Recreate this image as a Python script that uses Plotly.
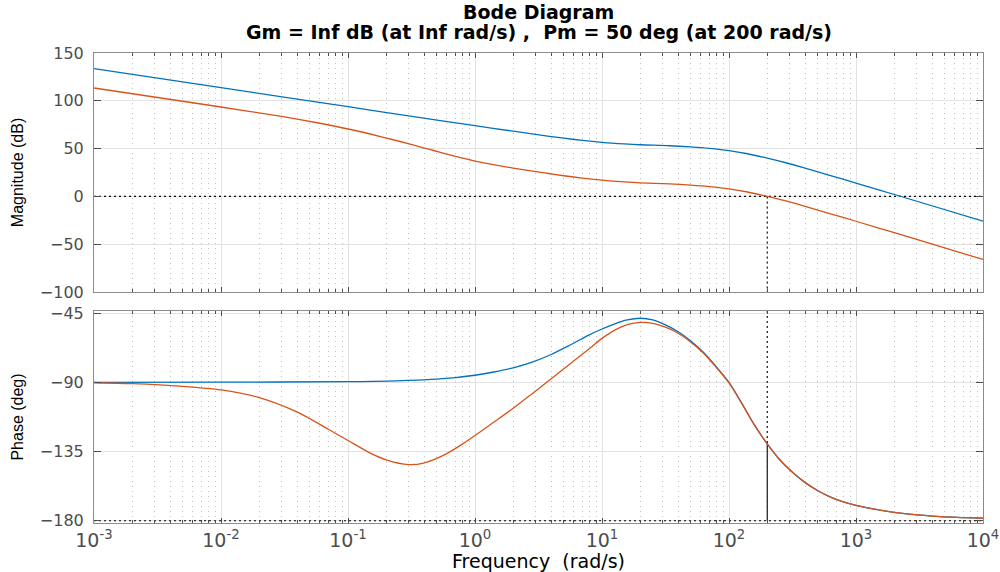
import plotly.graph_objects as go

# ---------------- values ----------------
# System 1 (blue) magnitude
mag1_freq = [0.001, 0.01, 0.1, 0.3, 1, 2, 3, 5, 7, 10, 15, 20, 34, 50, 70, 100, 140, 200, 280, 385, 600, 1000,
             2100, 10000]
mag1_db = [133.6, 113.7, 93.8, 84.3, 74.0, 68.2, 64.8, 60.9, 58.6, 56.6, 54.9, 54.0, 53.0, 51.7, 50.2, 47.9, 44.6,
           40.0, 35.2, 30.2, 22.6, 14.0, 1.2, -26.0]

# System 2 (orange) magnitude
mag2_freq = [0.001, 0.01, 0.03, 0.06, 0.1, 0.18, 0.33, 0.6, 1, 2, 3.67, 5, 7, 10, 15, 20, 34, 50, 70, 100, 140,
             200, 280, 385, 600, 1000, 2100, 10000]
mag2_db = [113.4, 93.5, 83.6, 76.5, 70.5, 62.6, 53.7, 44.2, 36.9, 29.6, 24.2, 21.6, 19.1, 17.0, 15.1, 14.1, 13.0,
           11.7, 10.2, 7.9, 4.6, 0.0, -4.8, -9.8, -17.4, -26.0, -38.8, -66.0]

# System 1 (blue) phase
ph1_freq = [0.001, 0.01, 0.1, 0.2, 0.3, 0.5, 0.7, 1, 1.41, 2.0, 2.82, 3.98, 5.62, 7.94, 10, 12.6, 15.8, 20.0, 25.1,
            31.6, 39.8, 50.1, 63.1, 79.4, 100, 126, 158, 200, 251, 316, 398, 501, 631, 794, 1000, 1585, 2512, 3981,
            6310, 10000]
ph1_deg = [-89.9, -89.8, -89.5, -89.1, -88.7, -87.8, -86.8, -85.3, -83.2, -80.5, -76.8, -71.8, -65.6, -59.0, -55.2,
           -51.8, -49.3, -48.2, -49.2, -52.5, -57.0, -63.0, -70.5, -79.8, -90.0, -103.5, -117.5, -130.0, -140.3,
           -148.5, -155.2, -160.5, -164.6, -167.7, -170.0, -173.3, -175.6, -177.0, -177.9, -178.4]

# System 2 (orange) phase
ph2_freq = [0.001, 0.002, 0.005, 0.01, 0.02, 0.04, 0.07, 0.1, 0.15, 0.2, 0.3, 0.4, 0.6, 0.8, 1, 1.41, 2.0, 2.82,
            3.98, 5.62, 7.94, 10, 12.6, 15.8, 20.0, 25.1, 31.6, 39.8, 50.1, 63.1, 79.4, 100, 126, 158, 200, 251, 316,
            398, 501, 631, 794, 1000, 1585, 2512, 3981, 6310, 10000]
ph2_deg = [-90.2, -90.8, -92.5, -94.8, -99.8, -109.3, -120.5, -127.8, -136.0, -140.4, -143.5, -142.3, -136.3,
           -130.0, -124.5, -115.8, -106.8, -97.3, -87.6, -77.8, -68.0, -61.3, -55.9, -52.4, -50.9, -51.5, -54.0,
           -58.0, -63.8, -71.0, -80.2, -90.3, -103.6, -117.5, -130.0, -140.3, -148.5, -155.2, -160.5, -164.6,
           -167.7, -170.0, -173.3, -175.6, -177.0, -177.9, -178.4]

# Stability margins of system 2
gm_text = "Inf"
pm_deg = 50
wc = 200           # gain crossover frequency (rad/s)
ph_at_wc = -130    # phase at crossover (deg)

freq_lim = [0.001, 10000]
freq_ticks = [0.001, 0.01, 0.1, 1, 10, 100, 1000, 10000]
freq_ticklabels = ["10<sup>-3</sup>", "10<sup>-2</sup>", "10<sup>-1</sup>", "10<sup>0</sup>", "10<sup>1</sup>",
                   "10<sup>2</sup>", "10<sup>3</sup>", "10<sup>4</sup>"]
mag_lim = [-100, 150]
mag_ticks = [-100, -50, 0, 50, 100, 150]
ph_lim = [-181.5, -43.5]
ph_ticks = [-180, -135, -90, -45]

BLUE = "#0072BD"
ORANGE = "#D95319"
TICKC = "#4d4d4d"
FONT_H = "DejaVu Sans"
FONT_V = "Liberation Sans"

fig = go.Figure()

def mline(x, y, xa, ya, dash):
    fig.add_trace(go.Scatter(x=x, y=y, mode="lines", xaxis=xa, yaxis=ya, hoverinfo="skip",
                             line=dict(color="black", width=1.1, dash=dash)))

def curve(x, y, color, xa, ya):
    fig.add_trace(go.Scatter(x=x, y=y, mode="lines", xaxis=xa, yaxis=ya, hoverinfo="skip",
                             line=dict(color=color, width=1.3, shape="spline", smoothing=0.8)))

# margin markers
mline(freq_lim, [0, 0], "x", "y", "2px,3px")
mline([wc, wc], [0, mag_lim[0]], "x", "y", "2px,3px")
mline(freq_lim, [-180, -180], "x2", "y2", "2px,3px")
mline([wc, wc], [ph_lim[1], ph_at_wc], "x2", "y2", "2px,3px")
mline([wc, wc], [ph_at_wc, -180], "x2", "y2", "solid")

curve(mag1_freq, mag1_db, BLUE, "x", "y")
curve(mag2_freq, mag2_db, ORANGE, "x", "y")
curve(ph1_freq, ph1_deg, BLUE, "x2", "y2")
curve(ph2_freq, ph2_deg, ORANGE, "x2", "y2")

xcommon = dict(type="log", range=[-3, 4], tickmode="array", tickvals=freq_ticks, ticktext=freq_ticklabels,
               ticks="inside", ticklen=5, tickcolor=TICKC,
               showline=True, linecolor="#8c8c8c", linewidth=1, mirror="allticks",
               showgrid=True, gridcolor="#e2e2e2", gridwidth=1, zeroline=False, ticklabeloverflow="allow",
               minor=dict(dtick="D1", ticks="inside", ticklen=3, tickcolor=TICKC, showgrid=True,
                          gridcolor="#c2c2c2", griddash="1px,4px", gridwidth=1))

ycommon = dict(ticks="inside", ticklen=7, tickcolor=TICKC, showline=True, linecolor="#8c8c8c", linewidth=1,
               mirror="allticks", showgrid=True, gridcolor="#e2e2e2", gridwidth=1, zeroline=False,
               tickfont=dict(family=FONT_H, size=16, color=TICKC), ticklabelstandoff=6)

fig.update_layout(
    width=1000, height=572, showlegend=False,
    paper_bgcolor="white", plot_bgcolor="white",
    margin=dict(l=94, r=17, t=53, b=49, autoexpand=False),
    xaxis=dict(**xcommon, anchor="y", matches="x2", showticklabels=False),
    xaxis2=dict(**xcommon, anchor="y2", showticklabels=True,
                tickfont=dict(family=FONT_H, size=19, color=TICKC), ticklabelstandoff=0,
                title=dict(text="Frequency\u00a0\u00a0(rad/s)", font=dict(family=FONT_H, size=19, color="black"),
                           standoff=1)),
    yaxis=dict(**ycommon, anchor="x", domain=[0.4915, 1.0], range=mag_lim, tickvals=mag_ticks,
               title=dict(text="Magnitude (dB)", font=dict(family=FONT_V, size=16, color="black"), standoff=12)),
    yaxis2=dict(**ycommon, anchor="x2", domain=[0.0, 0.451], range=ph_lim, tickvals=ph_ticks,
                title=dict(text="Phase (deg)", font=dict(family=FONT_V, size=16, color="black"), standoff=12)),
    annotations=[
        dict(text="<b>Bode Diagram</b>", xref="paper", yref="paper", x=0.5, y=1.0872, showarrow=False,
             xanchor="center", yanchor="middle", font=dict(family=FONT_H, size=19, color="black")),
        dict(text="<b>Gm = %s dB (at %s rad/s) ,\u00a0\u00a0Pm = %d deg (at %d rad/s)</b>" % (gm_text, gm_text, pm_deg, wc),
             xref="paper", yref="paper", x=0.5, y=1.0447, showarrow=False,
             xanchor="center", yanchor="middle", font=dict(family=FONT_H, size=19, color="black")),
    ],
)

fig.write_html("out.html")
